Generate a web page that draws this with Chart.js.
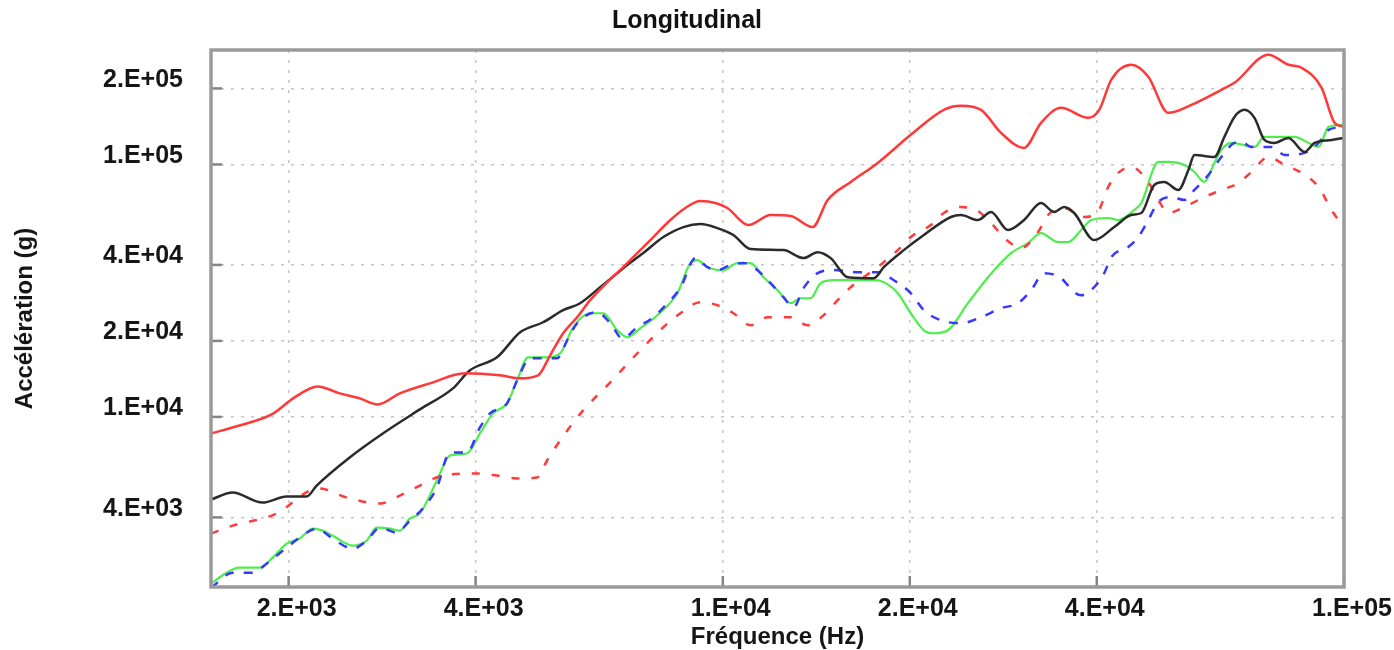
<!DOCTYPE html>
<html>
<head>
<meta charset="utf-8">
<title>Longitudinal</title>
<script src="https://cdn.jsdelivr.net/npm/chart.js"></script>
<style>
    html, body { margin: 0; padding: 0; background: #fff; }
    #wrap { width: 1394px; height: 650px; }
</style>
</head>
<body>
<div id="wrap"><canvas id="srs-chart" width="1394" height="650"></canvas></div>
<script>
// Axis ticks
const xTicks = [2000, 4000, 10000, 20000, 40000, 100000];
const yTicks = [4000, 10000, 20000, 40000, 100000, 200000];

// Red solid
const redSolidFreq = [1500,1667,1878,2045,2227,2417,2604,2784,3021,3376,3845,4379,4718,5042,5273,5533,5828,6116,6517,6914,7283,7730,8233,8704,9203,9730,10170,11000,11940,12860,13950,14750,16070,17760,20070,22690,24170,26040,28040,30550,32530,35040,38740,40360,42200,45440,48410,52150,56810,63480,66620,75580,81420,85450,92030,96580,100000];
const redSolidVal = [8600,9250,10230,11950,13210,12400,11840,11210,12400,13580,14880,14610,14220,14610,17540,21450,24820,29000,34190,39200,44550,51570,60230,67210,71660,70360,67210,57530,63060,62480,56490,72320,85230,101400,131000,164500,170700,164500,133400,116300,146100,167600,153000,164500,216400,248200,222500,160100,172200,197500,210600,272000,248200,241500,201200,146100,140900];

// Red dashed
const redDashFreq = [1500,1625,1913,2162,2244,2481,2805,3021,3253,3543,4020,4330,4666,5024,5214,5472,5959,6590,7283,8022,8544,9203,9802,10400,11080,11810,12860,13700,14530,15310,16070,16860,18160,19130,20070,21620,22690,24170,25750,27020,28780,30210,32170,33390,35430,38030,40210,41730,43300,45440,48410,50240,52150,55340,59590,63480,67620,70960,75580,80220,85450,91010,95510,100000];
const redDashVal = [3449,3711,4141,5108,5202,4793,4537,4882,5345,5858,5966,5858,5701,5754,6722,8067,10610,13710,17860,22650,25740,28470,27700,25740,23070,24820,24820,23070,25280,29000,32650,35770,41030,45780,51570,57530,64220,67830,65350,58570,49710,46640,53980,63060,67210,61920,65350,81390,92530,97740,85230,72320,64220,67830,74300,79220,84450,93370,107100,99540,92530,81390,66000,55980];

// Black solid
const blackFreq = [1500,1625,1816,1985,2138,2219,2508,2836,3253,3678,3917,4330,4718,5137,5533,5893,6348,6914,7447,8022,8640,9203,9802,10400,11080,12520,13490,14210,14920,15890,17500,18160,19560,21070,23290,24170,25750,27020,28780,30550,32530,34140,35430,36780,39620,42670,45440,47170,49490,51360,54120,56170,57440,61850,64190,66620,69150,71760,74460,77270,81420,86410,89660,95510,100000];
const blackVal = [4705,5016,4579,4838,4838,5345,6909,8599,10710,12970,15290,17220,21650,23710,26470,28210,32650,38840,44550,51570,56490,58070,55980,52520,46210,45780,42560,44940,42560,35770,35440,39200,45780,52520,61920,63060,60230,64810,54970,60230,70360,64810,67830,64220,50170,56490,63060,64220,82920,85230,79220,95100,109100,107100,128600,154300,164500,153000,125100,121700,127400,112100,121700,125100,127400];

// Blue dashed
const blueFreq = [1500,1625,1750,1843,1985,2083,2219,2355,2537,2671,2805,2987,3134,3289,3465,3637,3873,4065,4219,4493,4666,4896,5411,5616,5828,6277,6590,6888,7283,7730,8142,8544,9033,9445,9802,10290,10800,11210,11810,12520,13000,13490,14210,15090,16490,17760,18850,20070,21070,22440,24170,26040,28040,29880,31350,32900,35040,36780,37750,39620,41110,42200,44940,46650,48410,50240,52730,55340,57440,60480,63480,66620,68390,70960,76420,80220,86410,91010,94450,100000];
const blueVal = [2100,2415,2415,2623,3035,3325,3609,3295,3008,3236,3642,3479,3884,4335,5250,7229,7229,9086,10330,11310,13960,17060,17060,20110,23500,25980,23500,20480,22650,24820,28210,32360,42560,39200,38150,39940,40670,39200,34800,29790,27190,32360,37100,38150,37450,37450,34800,30910,26470,24150,23500,24820,26950,28210,31770,37100,35440,31190,30350,32650,37100,42950,47060,51570,60230,70970,74300,72320,79220,90850,107100,121700,122800,117300,117300,109100,111100,121700,137100,140900];

// Green solid
const greenFreq = [1500,1589,1667,1796,1885,1985,2083,2186,2269,2355,2537,2671,2773,2910,3021,3134,3253,3465,3637,3873,4065,4266,4493,4666,4858,5214,5472,5743,6116,6419,6761,7020,7364,7845,8450,8867,9100,9445,10020,10560,11080,11630,12250,12860,13350,13850,14370,15090,17500,18160,19130,20070,21070,21870,23030,24810,26730,29100,31000,32530,34650,35970,37750,39180,41730,43300,45960,47170,50240,52150,55340,57440,59590,61850,63480,65890,71760,74460,83270,87700,91010,94450,100000];
const greenVal = [2184,2415,2528,2528,2770,3148,3295,3609,3545,3386,3092,3236,3642,3609,3545,3957,4141,5598,7036,7166,8599,10330,11310,13960,17220,17220,17860,22650,25740,25740,22040,20670,22450,25280,30910,40670,41780,39200,38150,40670,40670,35770,31770,28210,29520,29520,33870,34800,34800,34190,30910,25740,22040,21450,22040,28210,35770,44550,48830,53480,49280,49280,54970,60230,61350,60230,66000,70360,102300,102300,99540,93370,85230,101400,114200,121700,117300,128600,128600,121700,117300,140900,143400];

const FONT = "'Liberation Sans', Arial, Helvetica, sans-serif";

let toPoints = (freqs, vals) => freqs.map((f, i) => ({ x: f, y: vals[i] }));

// 2.E+05 style labels
let sciLabel = v => {
    const e = Math.floor(Math.log10(v) + 1e-9);
    const m = Math.round(v / Math.pow(10, e));
    return m + ".E+" + String(e).padStart(2, "0");
};

let series = (data, color, width, dash) => ({
    data: data,
    borderColor: color,
    borderWidth: width,
    borderDash: dash || [],
    pointRadius: 0,
    fill: false,
    cubicInterpolationMode: "monotone"
});

// frame round the plot and short inward tick marks
const framePlugin = {
    id: "frame",
    afterDatasetsDraw(chart) {
        const { ctx, chartArea: a, scales } = chart;
        ctx.save();
        ctx.strokeStyle = "#848484";
        ctx.lineWidth = 2.5;
        scales.x.ticks.forEach(t => {
            const px = scales.x.getPixelForValue(t.value);
            ctx.beginPath();
            ctx.moveTo(px, a.bottom);
            ctx.lineTo(px, a.bottom - 11);
            ctx.stroke();
        });
        scales.y.ticks.forEach(t => {
            const py = scales.y.getPixelForValue(t.value);
            ctx.beginPath();
            ctx.moveTo(a.left, py);
            ctx.lineTo(a.left + 11, py);
            ctx.stroke();
        });
        ctx.strokeStyle = "#9a9a9a";
        ctx.lineWidth = 3.5;
        ctx.strokeRect(a.left, a.top, a.right - a.left, a.bottom - a.top);
        ctx.restore();
    }
};

const chartOptions = {
    responsive: false,
    animation: false,
    devicePixelRatio: 1,
    layout: {
        padding: { left: 0, right: 20, top: 0, bottom: 0 }
    },
    plugins: {
        legend: { display: false },
        tooltip: { enabled: false },
        title: {
            display: true,
            text: "Longitudinal",
            color: "#111",
            font: { family: FONT, size: 25, weight: "bold" },
            padding: { top: 6, bottom: 14 }
        }
    },
    scales: {
        x: {
            type: "logarithmic",
            min: 1500,
            max: 100000,
            afterBuildTicks: s => { s.ticks = xTicks.map(v => ({ value: v })); },
            afterFit: s => { s.height = 63; s.paddingRight = 50; s.paddingLeft = 0; },
            grid: { color: "#c6c6c6", lineWidth: 1.5, drawTicks: false },
            border: { display: false, dash: [3, 7] },
            ticks: {
                autoSkip: false,
                maxRotation: 0,
                padding: 7.5,
                labelOffset: 8,
                color: "#161616",
                font: { family: FONT, size: 25, weight: "bold" },
                callback: v => sciLabel(v)
            },
            title: {
                display: true,
                text: "Fréquence (Hz)",
                color: "#161616",
                font: { family: FONT, size: 24, weight: "bold", lineHeight: 1 },
                padding: { top: 0, bottom: 1 }
            }
        },
        y: {
            type: "logarithmic",
            min: 2120,
            max: 284000,
            afterBuildTicks: s => { s.ticks = yTicks.map(v => ({ value: v })); },
            afterFit: s => { s.width = 211; s.paddingTop = 0; s.paddingBottom = 0; },
            grid: { color: "#c6c6c6", lineWidth: 1.5, drawTicks: false },
            border: { display: false, dash: [3, 7] },
            ticks: {
                autoSkip: false,
                padding: 28,
                labelOffset: -8.5,
                color: "#161616",
                font: { family: FONT, size: 25, weight: "bold" },
                callback: v => sciLabel(v)
            },
            title: {
                display: true,
                text: "Accélération (g)",
                color: "#161616",
                font: { family: FONT, size: 24, weight: "bold", lineHeight: 1 },
                padding: { top: 13, bottom: 0 }
            }
        }
    }
};

const chartData = {
    datasets: [
        series(toPoints(redSolidFreq, redSolidVal), "#ff3838", 2.5),
        series(toPoints(blackFreq, blackVal), "#2b2b2b", 2.5),
        series(toPoints(redDashFreq, redDashVal), "#ff3c3c", 2.5, [8, 12]),
        series(toPoints(blueFreq, blueVal), "#3838ff", 2.5, [9, 10]),
        series(toPoints(greenFreq, greenVal), "#4cee4c", 2.2)
    ]
};

new Chart("srs-chart", {
    type: "line",
    data: chartData,
    options: chartOptions,
    plugins: [framePlugin]
});
</script>
</body>
</html>
